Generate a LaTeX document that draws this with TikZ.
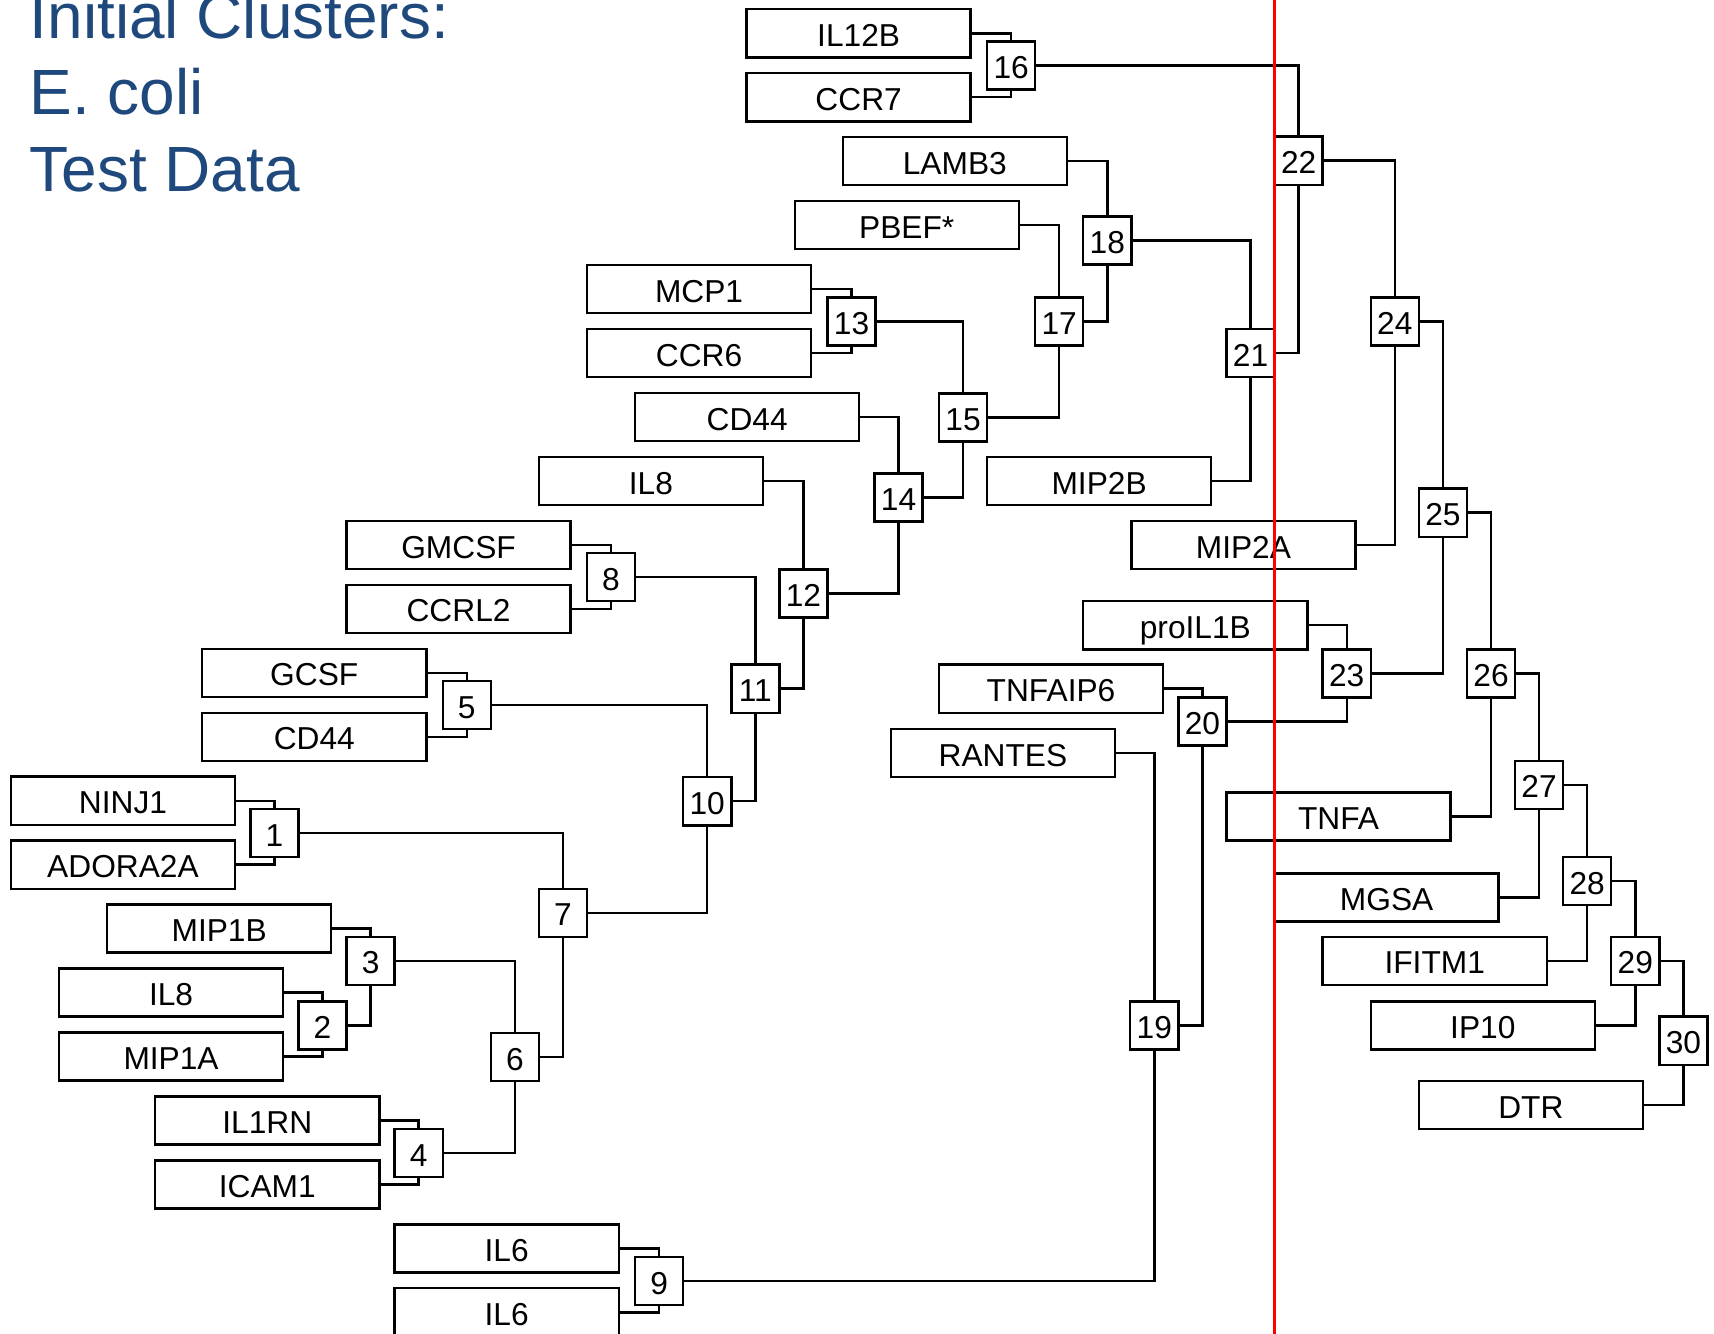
\documentclass[tikz,border=0pt]{standalone}
\usepackage{fontspec}
\setmainfont{Liberation Sans}
\definecolor{titleblue}{RGB}{31,73,125}
\begin{document}
\begin{tikzpicture}[x=1pt,y=-1pt,
  leaf/.style={draw, fill=white, line width=2.2pt, minimum width=205pt, minimum height=44pt,
    inner sep=0pt, text height=24pt, text depth=0pt, font=\fontsize{29}{30}\selectfont},
  merge/.style={draw, fill=white, line width=2.2pt, minimum width=44pt, minimum height=44pt,
    inner sep=0pt, text height=24pt, text depth=0pt, font=\fontsize{29}{30}\selectfont},
  link/.style={line width=2.2pt},
  cutline/.style={red, line width=2.4pt},
  heading/.style={anchor=base west, inner sep=0pt, text=titleblue, font=\fontsize{58.5}{60}\selectfont}]

\useasboundingbox (0,0) rectangle (1568,1220);

% title
\node[heading] (t1) at (27,34.8) {Initial Clusters:};
\node[heading] (t2) at (27,105.2) {E. coli};
\node[heading] (t3) at (27,175.6) {Test Data};

% genes
\node[leaf] (IL12B)   at (785.5,30.5)  {IL12B};
\node[leaf] (CCR7)    at (785.5,89)    {CCR7};
\node[leaf] (LAMB3)   at (873.5,147.5) {LAMB3};
\node[leaf] (PBEF)    at (829.5,206)   {PBEF*};
\node[leaf] (MCP1)    at (639.5,264.5) {MCP1};
\node[leaf] (CCR6)    at (639.5,323)   {CCR6};
\node[leaf] (CDa)     at (683.5,381.5) {CD44};
\node[leaf] (ILa)     at (595.5,440)   {IL8};
\node[leaf] (GMCSF)   at (419.5,498.5) {GMCSF};
\node[leaf] (CCRL2)   at (419.5,557)   {CCRL2};
\node[leaf] (GCSF)    at (287.5,615.5) {GCSF};
\node[leaf] (CDb)     at (287.5,674)   {CD44};
\node[leaf] (NINJ1)   at (112.5,732.5) {NINJ1};
\node[leaf] (ADORA)   at (112.5,791)   {ADORA2A};
\node[leaf] (MIP1B)   at (200.5,849.5) {MIP1B};
\node[leaf] (ILb)     at (156.5,908)   {IL8};
\node[leaf] (MIP1A)   at (156.5,966.5) {MIP1A};
\node[leaf] (IL1RN)   at (244.5,1025)  {IL1RN};
\node[leaf] (ICAM1)   at (244.5,1083.5){ICAM1};
\node[leaf] (ILsa)    at (463.5,1142)  {IL6};
\node[leaf] (ILsb)    at (463.5,1200.5){IL6};
\node[leaf] (MIP2B)   at (1005.5,440)  {MIP2B};
\node[leaf] (MIP2A)   at (1137.5,498.5){MIP2A};
\node[leaf] (proIL)   at (1093.5,572)  {proIL1B};
\node[leaf] (TNFAIP)  at (961.5,630)   {TNFAIP6};
\node[leaf] (RANTES)  at (917.5,689)   {RANTES};
\node[leaf] (TNFA)    at (1224.5,747)  {TNFA};
\node[leaf] (MGSA)    at (1268.5,821)  {MGSA};
\node[leaf] (IFITM1)  at (1312.5,879)  {IFITM1};
\node[leaf] (IP10)    at (1356.5,938)  {IP10};
\node[leaf] (DTR)     at (1400.5,1011) {DTR};

% merge steps
\node[merge] (c1)  at (251,762)   {1};
\node[merge] (c2)  at (295,938)   {2};
\node[merge] (c3)  at (339,879)   {3};
\node[merge] (c4)  at (383,1055)  {4};
\node[merge] (c5)  at (427,645)   {5};
\node[merge] (c6)  at (471,967)   {6};
\node[merge] (c7)  at (515,835)   {7};
\node[merge] (c8)  at (559,528)   {8};
\node[merge] (c9)  at (603,1172)  {9};
\node[merge] (c10) at (647,733)   {10};
\node[merge] (c11) at (691,630)   {11};
\node[merge] (c12) at (735,543)   {12};
\node[merge] (c13) at (779,294)   {13};
\node[merge] (c14) at (822,455)   {14};
\node[merge] (c15) at (881,382)   {15};
\node[merge] (c16) at (925,60)    {16};
\node[merge] (c17) at (969,294)   {17};
\node[merge] (c18) at (1013,220)  {18};
\node[merge] (c19) at (1056,938)  {19};
\node[merge] (c20) at (1100,660)  {20};
\node[merge] (c21) at (1144,323)  {21};
\node[merge] (c22) at (1188,147)  {22};
\node[merge] (c23) at (1232,616)  {23};
\node[merge] (c24) at (1276,294)  {24};
\node[merge] (c25) at (1320,469)  {25};
\node[merge] (c26) at (1364,616)  {26};
\node[merge] (c27) at (1408,718)  {27};
\node[merge] (c28) at (1452,806)  {28};
\node[merge] (c29) at (1496,879)  {29};
\node[merge] (c30) at (1540,952)  {30};

% each member runs right, then turns into the step that joins it
\foreach \child/\parent in {
  IL12B/c16, CCR7/c16, c16/c22,
  LAMB3/c18, PBEF/c17, c17/c18, c18/c21, c21/c22, c22/c24,
  MCP1/c13, CCR6/c13, c13/c15, CDa/c14, c14/c15, c15/c17,
  MIP2B/c21, MIP2A/c24, c24/c25,
  ILa/c12, c12/c14, GMCSF/c8, CCRL2/c8, c8/c11, c11/c12,
  GCSF/c5, CDb/c5, c5/c10, c10/c11,
  NINJ1/c1, ADORA/c1, c1/c7, c7/c10,
  MIP1B/c3, ILb/c2, MIP1A/c2, c2/c3, c3/c6,
  IL1RN/c4, ICAM1/c4, c4/c6, c6/c7,
  ILsa/c9, ILsb/c9, c9/c19, RANTES/c19, c19/c20, TNFAIP/c20,
  c20/c23, proIL/c23, c23/c25, c25/c26, TNFA/c26,
  c26/c27, MGSA/c27, c27/c28, IFITM1/c28, c28/c29, IP10/c29,
  c29/c30, DTR/c30}
  \draw[link] (\child.east) -| (\parent);

% cut-off line
\coordinate (cutTop) at (1166,0);
\coordinate (cutBot) at (1166,1220);
\draw[cutline] (cutTop) -- (cutBot);
\end{tikzpicture}
\end{document}
